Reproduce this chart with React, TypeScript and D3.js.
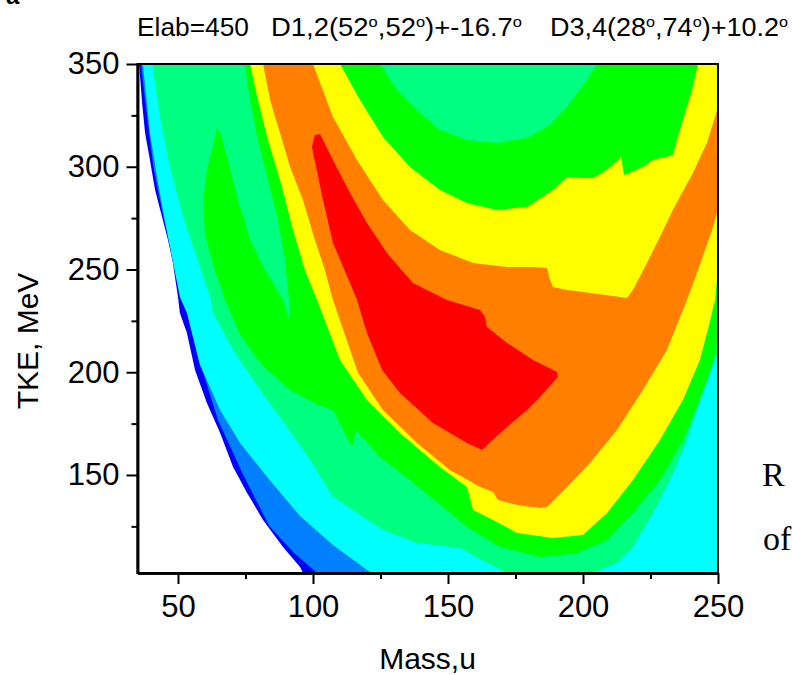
import React, { useEffect, useRef } from 'react';
import * as d3 from 'd3';

// axis ticks
const massTicks = [50, 100, 150, 200, 250];
const massMinor = [75, 125, 175, 225];
const tkeTicks = [150, 200, 250, 300, 350];
const tkeMinor = [125, 175, 225, 275, 325];

// contour level regions, [mass, TKE], lowest level first
const blueLevel = [
  [35.6, 350], [36.7, 331.0], [37.8, 316.4], [39.6, 303.3], [41.5, 288.7], [44.1, 275.5], [46.3, 264.4],
  [48.1, 253.2], [50.0, 236.6], [50.7, 228.8], [53.3, 219.1], [56.3, 201.1], [60.7, 185.0], [65.6, 170.4],
  [70.4, 153.9], [75.6, 141.2], [81.5, 128.1], [88.9, 115.0], [95.2, 105.2], [96.3, 102.3],
  [97, 98], [255, 98], [255, 355], [35.6, 355],
];
const azureLevel = [
  [36.3, 350], [37.8, 332.5], [39.3, 316.4], [40.9, 300], [44.8, 274.1], [49.4, 249.8], [54.8, 224.6],
  [59.0, 201.1], [64.8, 176.8], [74.0, 150.5], [83.8, 125.2], [93.0, 112.0], [101.5, 102.3],
  [102, 98], [255, 98], [255, 355], [36.3, 355],
];
const cyanLevel = [
  [37.0, 350], [39.6, 316.4], [42.6, 292.1], [46.3, 265.8], [50.7, 236.6], [53.3, 228.8], [58.1, 203.6],
  [65.6, 181.6], [73.0, 165.6], [83.0, 149.0], [95.2, 130.0], [107.4, 115.9], [120.0, 103.8], [121.9, 102.3],
  [123, 98], [255, 98], [255, 355], [37, 355],
];
const springLevel = [
  [40.4, 350], [43.3, 324.2], [47.0, 299.9], [51.9, 275.5], [58.1, 251.2], [61.9, 236.6], [63.0, 228.8],
  [70.4, 210.8], [80.4, 191.4], [90.4, 173.4], [98.9, 157.3], [107.4, 139.3], [125.9, 123.2], [138.5, 116.9],
  [154.4, 114.5], [164.4, 107.2], [171.9, 102.3], [172, 98], [203.7, 98], [203.7, 102.3], [212.6, 107.2],
  [218.5, 115.0], [225.9, 131.5], [233.3, 150.9], [238.5, 167.0], [243.3, 186.5], [247.0, 203.6],
  [249.6, 208.4], [255, 208.4], [255, 355], [40.4, 355],
];
const greenLevel = [
  [74.8, 350], [76.7, 332.5], [79.6, 313.0], [83.3, 293.6], [87.0, 274.1], [89.6, 254.6], [91.1, 235.2],
  [91.5, 224.6], [88.9, 235.2], [82.2, 249.8], [76.7, 264.4], [72.2, 283.8], [68.5, 303.3], [65.6, 316.4],
  [64.4, 318.9], [63.0, 310.6], [60.7, 298.5], [59.3, 283.8], [60.0, 266.8], [63.0, 252.2], [67.4, 235.2],
  [73.0, 218.1], [81.1, 203.5], [91.5, 191.4], [101.9, 184.1], [107.4, 181.6], [114.4, 163.6], [115.9, 171.9],
  [124.8, 158.8], [135.9, 147.6], [148.1, 134.4], [157.0, 124.7], [169.3, 115.0], [184.1, 110.1],
  [197.8, 112.0], [208.9, 118.4], [218.5, 131.5], [228.5, 147.6], [237.0, 167.0], [243.3, 186.5],
  [248.1, 203.6], [250, 215.7], [255, 215.7], [255, 355], [74.8, 355],
];
const domeLevel = [
  [124.8, 350], [131.1, 337.3], [138.5, 327.6], [147.0, 317.9], [157.0, 313.0], [168.1, 311.6], [179.3, 314.0],
  [187.8, 320.3], [195.2, 331.0], [201.5, 342.2], [205.2, 350], [205.2, 355], [124.8, 355],
];
const yellowLevel = [
  [76.7, 350], [79.6, 332.5], [83.3, 313.0], [87.8, 293.6], [92.6, 269.2], [97.0, 249.8], [101.5, 235.2],
  [110.0, 206.0], [120.0, 186.5], [132.2, 170.4], [147.0, 153.9], [157.0, 144.2], [159.3, 132.9],
  [166.7, 128.1], [175.6, 121.8], [188.9, 119.3], [200, 120.8], [208.9, 131.5], [218.5, 147.6],
  [228.5, 167.0], [237.0, 186.5], [243.3, 206.0], [247.0, 224.6], [248.9, 235.2], [250, 249.8],
  [255, 249.8], [255, 355], [242.6, 355], [242.6, 350], [240.4, 337.3], [237.0, 322.7], [234.8, 313.0],
  [233.3, 305.7], [225.9, 303.3], [222.2, 299.9], [215.2, 296.0], [214.1, 304.7], [213.0, 303.3],
  [208.9, 298.5], [203.7, 294.5], [198.9, 294.5], [194.1, 295.0], [188.9, 288.7], [179.3, 280.4],
  [168.1, 279.0], [157.0, 282.4], [147.0, 288.7], [135.9, 299.9], [125.9, 314.5], [117.4, 332.5],
  [110.0, 350], [110.0, 355], [76.7, 355],
];
const orangeLevel = [
  [81.5, 350], [84.1, 332.5], [87.8, 316.4], [91.5, 299.9], [96.3, 283.8], [100.7, 264.4], [104.4, 249.8],
  [107.4, 235.2], [116.7, 199.6], [125.9, 181.6], [138.5, 165.6], [150.7, 152.4], [161.9, 144.2],
  [166.7, 141.7], [168.5, 137.8], [175.6, 135.4], [184.1, 133.9], [186.7, 134.4], [194.1, 144.2],
  [202.6, 155.8], [212.6, 171.9], [222.2, 191.4], [231.1, 210.8], [238.5, 235.2], [243.3, 252.2],
  [247.8, 269.2], [250, 279.0], [255, 279.0], [255, 327.6], [249.6, 327.6], [248.9, 324.2], [245.9, 311.6],
  [240.7, 297.0], [233.3, 279.0], [228.5, 265.8], [223.7, 253.2], [218.5, 240.0], [216.3, 236.1],
  [213.7, 236.6], [202.6, 238.6], [194.1, 240.0], [188.9, 241.5], [187.8, 244.9], [186.7, 250.7],
  [181.5, 251.2], [171.9, 251.2], [159.3, 253.2], [147.0, 259.5], [135.9, 269.2], [125.9, 283.8],
  [116.3, 303.3], [107.4, 324.2], [100, 350], [100, 355], [81.5, 355],
];
const redLevel = [
  [100.7, 315.5], [102.6, 315.9], [107.4, 303.3], [113.7, 287.2], [120.0, 272.6], [127.4, 258.0],
  [137.0, 243.4], [149.6, 235.2], [161.9, 230.3], [163.7, 226.9], [164.4, 222.0], [171.9, 214.2],
  [181.5, 206.0], [190.4, 200.1], [190.7, 197.7], [184.1, 187.9], [179.3, 181.6], [169.3, 170.4],
  [162.6, 162.2], [157.0, 165.6], [144.4, 175.3], [132.2, 189.9], [125.6, 201.1], [120.0, 219.1],
  [116.3, 235.2], [113.7, 243.4], [107.4, 262.9], [103.7, 283.8], [99.6, 309.6],
];

const layers: [number[][], string][] = [
  [blueLevel, '#0000FF'],
  [azureLevel, '#0080FF'],
  [cyanLevel, '#00FFFF'],
  [springLevel, '#00FF80'],
  [greenLevel, '#00FF00'],
  [domeLevel, '#00FF80'],
  [yellowLevel, '#FFFF00'],
  [orangeLevel, '#FF8000'],
  [redLevel, '#FF0000'],
];

const FONT = '"Liberation Sans", Arial, sans-serif';

const Deg = () => <tspan fontSize={15} dy={-9}>o</tspan>;

const App = () => {
  const gRef = useRef<SVGGElement>(null);

  useEffect(() => {
    const margin = { top: 64, right: 74, bottom: 102, left: 137.5 };
    const width = 792 - margin.left - margin.right;
    const height = 675 - margin.top - margin.bottom;

    const root = d3.select(gRef.current);
    root.selectAll('*').remove();
    const g = root.append('g').attr('transform', `translate(${margin.left},${margin.top})`);

    const x = d3.scaleLinear().domain([35, 250]).range([0, width]);
    const y = d3.scaleLinear().domain([102.3, 350]).range([height, 0]);

    g.append('clipPath').attr('id', 'plot-clip')
      .append('rect').attr('width', width).attr('height', height);

    const plot = g.append('g').attr('clip-path', 'url(#plot-clip)');
    const line = d3.line<number[]>().x(d => x(d[0])).y(d => y(d[1])).curve(d3.curveLinearClosed);
    layers.forEach(([pts, color]) => {
      plot.append('path').attr('d', line(pts)).attr('fill', color);
    });

    // frame
    g.append('rect').attr('width', width).attr('height', height)
      .attr('fill', 'none').attr('stroke', '#000').attr('stroke-width', 2);

    const styleAxis = (a: any) => {
      a.attr('font-size', 31).attr('font-family', FONT);
      a.select('.domain').attr('stroke-width', 2.5);
      a.selectAll('.tick line').attr('stroke-width', 2);
      a.selectAll('.tick text').attr('fill', '#000');
    };

    g.append('g').attr('transform', `translate(0,${height})`)
      .call(d3.axisBottom(x).tickValues(massTicks).tickSize(11).tickPadding(11).tickSizeOuter(0))
      .call(styleAxis);
    g.append('g').attr('transform', `translate(0,${height})`)
      .call(d3.axisBottom(x).tickValues(massMinor).tickSize(6).tickFormat(() => '').tickSizeOuter(0))
      .call(styleAxis);
    g.append('g')
      .call(d3.axisLeft(y).tickValues(tkeTicks).tickSize(11).tickPadding(7).tickSizeOuter(0))
      .call(styleAxis);
    g.append('g')
      .call(d3.axisLeft(y).tickValues(tkeMinor).tickSize(6).tickFormat(() => '').tickSizeOuter(0))
      .call(styleAxis);
  }, []);

  return (
    <svg width={792} height={675} style={{ position: 'absolute', left: 0, top: 0, background: '#fff' }}>
      <g ref={gRef} />
      <text x={6} y={4} fontSize={24} fontWeight="bold" fontFamily={FONT}>a</text>
      <g fontFamily={FONT} fontSize={25} fill="#000">
        <text x={137} y={36} textLength={112} lengthAdjust="spacingAndGlyphs">Elab=450</text>
        <text x={271} y={36} textLength={251} lengthAdjust="spacingAndGlyphs">
          D1,2(52<Deg /><tspan dy={9}>,52</tspan><Deg /><tspan dy={9}>)+-16.7</tspan><Deg />
        </text>
        <text x={550} y={36} textLength={238} lengthAdjust="spacingAndGlyphs">
          D3,4(28<Deg /><tspan dy={9}>,74</tspan><Deg /><tspan dy={9}>)+10.2</tspan><Deg />
        </text>
      </g>
      <text x={427.5} y={669} fontSize={30} fontFamily={FONT} textAnchor="middle">Mass,u</text>
      <text transform="translate(38,341) rotate(-90)" fontSize={30} fontFamily={FONT} textAnchor="middle">TKE, MeV</text>
      <g fontFamily='"Liberation Serif", "Times New Roman", serif' fontSize={34}>
        <text x={762} y={486}>R</text>
        <text x={763} y={550}>of</text>
      </g>
    </svg>
  );
};

export default App;
